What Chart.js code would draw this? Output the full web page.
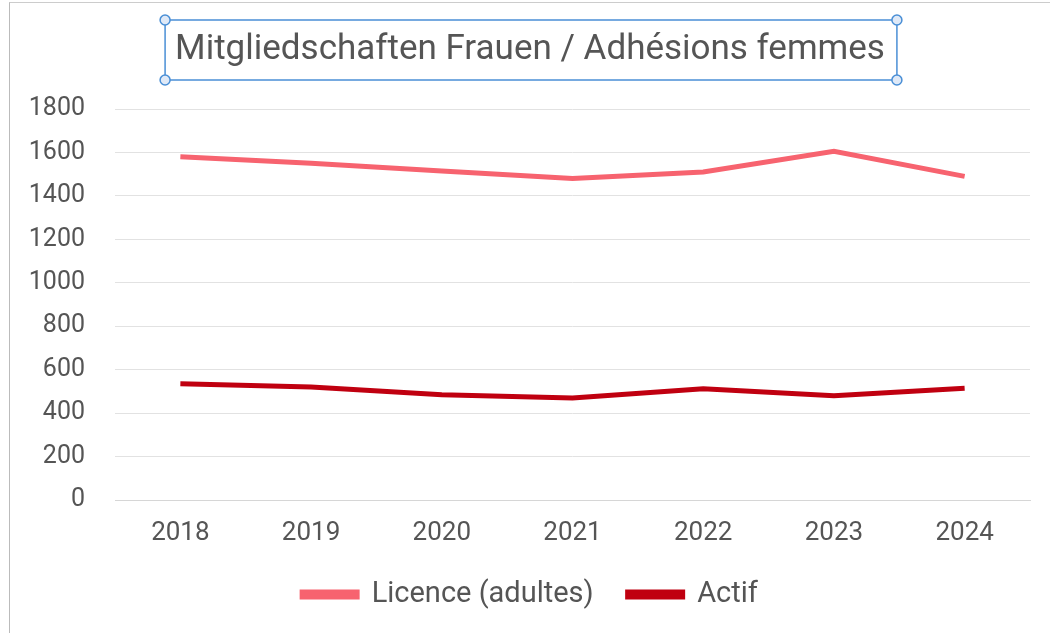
<!DOCTYPE html>
<html><head><meta charset="utf-8">
<script src="https://cdn.jsdelivr.net/npm/chart.js@4"></script>
<style>
html,body{margin:0;padding:0;background:#fff;}
#wrap{position:absolute;left:9px;top:2px;width:1040px;height:630px;border-left:1px solid #bbb;border-top:1px solid #ccc;}
</style></head>
<body>
<div id="wrap"><canvas id="c" width="1040" height="630"></canvas></div>
<script>
const categories = ['2018','2019','2020','2021','2022','2023','2024'];
const licenceValues = [1580, 1550, 1515, 1480, 1510, 1605, 1490];
const actifValues = [535, 520, 485, 470, 512, 480, 515];
const seriesNames = ['Licence (adultes)', 'Actif'];
const titleText = 'Mitgliedschaften Frauen / Adhésions femmes';
const titleFontSize = 35;

const titleBox = {
  id: 'titleBox',
  afterDraw(chart) {
    const tb = chart.titleBlock;
    if (!tb) return;
    const ctx = chart.ctx;
    ctx.save();
    ctx.font = titleFontSize + 'px Roboto';
    const w = ctx.measureText(titleText).width;
    const cx = (tb.left + tb.right) / 2;
    const cy = tb.top + 15 + titleFontSize * 1.2 / 2;
    const x0 = cx - w / 2 - 10, x1 = cx + w / 2 + 12;
    const y0 = cy - 30, y1 = cy + 30;
    ctx.strokeStyle = '#4a8fd6';
    ctx.lineWidth = 1.5;
    ctx.strokeRect(x0, y0, x1 - x0, y1 - y0);
    ctx.fillStyle = '#dfe9f7';
    [[x0,y0],[x1,y0],[x0,y1],[x1,y1]].forEach(([x,y])=>{
      ctx.beginPath(); ctx.arc(x, y, 5, 0, Math.PI*2); ctx.fill(); ctx.stroke();
    });
    ctx.restore();
  }
};

new Chart(document.getElementById('c'), {
  type: 'line',
  data: {
    labels: categories,
    datasets: [
      { label: seriesNames[0], data: licenceValues, borderColor: '#f7636f', backgroundColor: '#f96b80', borderWidth: 5, pointRadius: 0, tension: 0 },
      { label: seriesNames[1], data: actifValues, borderColor: '#c00010', backgroundColor: '#c00010', borderWidth: 5, pointRadius: 0, tension: 0 }
    ]
  },
  options: {
    responsive: false,
    animation: false,
    layout: { padding: { top: 11, left: 20, right: 20, bottom: 14 } },
    plugins: {
      title: { display: true, text: titleText, color: '#555', font: { family: 'Roboto', size: titleFontSize, weight: 'normal' }, padding: { top: 15, bottom: 38 } },
      legend: {
        position: 'bottom',
        labels: { color: '#555', font: { family: 'Roboto', size: 29 }, boxWidth: 55, boxHeight: 5, padding: 34 }
      },
      tooltip: { enabled: false }
    },
    scales: {
      x: {
        offset: true,
        grid: { display: false, drawTicks: false },
        border: { color: '#d6d6d6' },
        ticks: { color: '#555', font: { family: 'Roboto', size: 26 }, padding: 18 },
        afterFit: s => { s.height = 46; }
      },
      y: {
        min: 0, max: 1800,
        grid: { color: '#e2e2e2', drawTicks: false },
        border: { display: false },
        ticks: { stepSize: 200, color: '#555', font: { family: 'Roboto', size: 25 }, padding: 30, callback: v => String(v) },
        afterFit: s => { s.width = 85; }
      }
    }
  },
  plugins: [titleBox]
});
</script>
</body></html>
